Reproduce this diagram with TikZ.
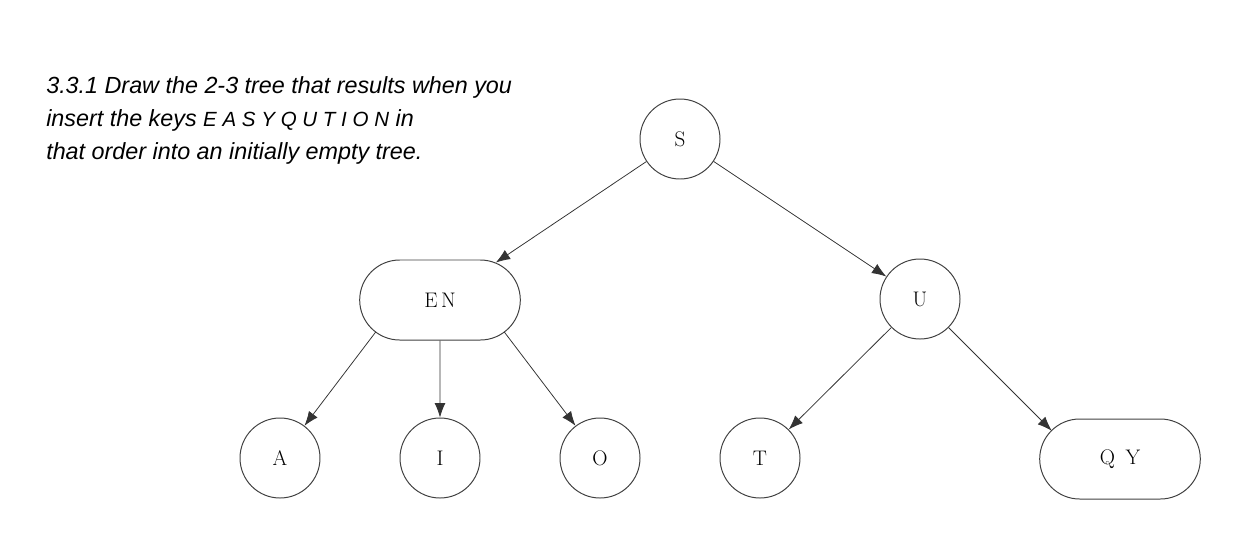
\documentclass[tikz,border=0pt]{standalone}
\usepackage{fontspec}
\setsansfont{Liberation Sans}
\usepackage{tikz}
\usetikzlibrary{shapes.misc,arrows.meta}

\begin{document}
\begin{tikzpicture}[
    key/.style={circle,draw=black!75,line width=0.7pt,minimum size=2cm,inner sep=0pt,font=\fontsize{15}{17}\selectfont},
    pair/.style={rounded rectangle,draw=black!75,line width=0.7pt,minimum width=4.25cm,minimum height=2cm,font=\fontsize{15}{17}\selectfont},
    edge/.style={draw=black!80,line width=0.55pt,-{Latex[length=3.6mm,width=2.7mm]}}
  ]
    \useasboundingbox (0,0) rectangle (31,-13.5);
    \node[anchor=north west,align=left,inner sep=0pt,font=\sffamily\itshape\fontsize{16.6}{23.6}\selectfont] (task) at (1.15,-1.9)
      {3.3.1 Draw the 2-3 tree that results when you\\
       insert the keys {\fontsize{14.6}{23.6}\selectfont E A S Y Q U T I O N} in\\
       that order into an initially empty tree.};
    \node[key] (S) at (17,-3.475) {S};
    \node[pair] (EN) at (11,-7.5) {E\,N};
    \node[key] (U) at (23,-7.475) {U};
    \node[key] (A) at (7,-11.45) {A};
    \node[key] (I) at (11,-11.45) {I};
    \node[key] (O) at (15,-11.45) {O};
    \node[key] (T) at (19,-11.45) {T};
    \node[pair] (QY) at (28,-11.475) {Q\enspace Y};
    \coordinate (ENl) at ([xshift=-1cm]EN.center);
    \coordinate (ENr) at ([xshift=1cm]EN.center);
    \coordinate (QYl) at ([xshift=-1cm]QY.center);
    \draw[edge] (S) -- (EN);
    \draw[edge] (S) -- (U);
    \draw[edge,shorten <=1cm] (ENl) -- (A);
    \draw[edge] (EN) -- (I);
    \draw[edge,shorten <=1cm] (ENr) -- (O);
    \draw[edge] (U) -- (T);
    \draw[edge,shorten >=1cm] (U) -- (QYl);
\end{tikzpicture}
\end{document}
